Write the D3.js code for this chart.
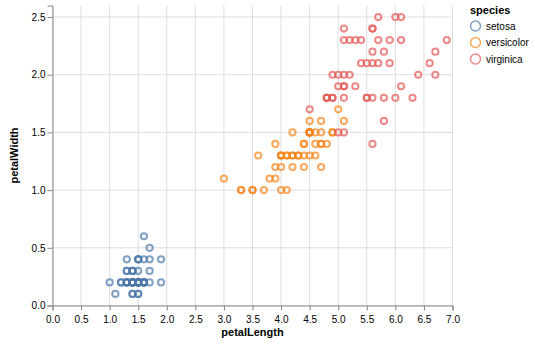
<!DOCTYPE html>
<html><head><meta charset="utf-8">
<script src="https://cdn.jsdelivr.net/npm/d3@7"></script>
<style>body{margin:0;background:#fff;font-family:"Liberation Sans",Arial,Helvetica,sans-serif}</style>
</head><body><svg id="c" width="535" height="345"></svg>
<script>
const species = ["setosa","versicolor","virginica"];
const colors = ["#4c78a8","#f58518","#e45756"];
const xTicks = [0,0.5,1,1.5,2,2.5,3,3.5,4,4.5,5,5.5,6,6.5,7];
const yTicks = [0,0.5,1,1.5,2,2.5];
const setosaLength = [1.4,1.4,1.3,1.5,1.4,1.7,1.4,1.5,1.4,1.5,1.5,1.6,1.4,1.1,1.2,1.5,1.3,1.4,1.7,1.5,1.7,1.5,1.0,1.7,1.9,1.6,1.6,1.5,1.4,1.6,1.6,1.5,1.5,1.4,1.5,1.2,1.3,1.4,1.3,1.5,1.3,1.3,1.3,1.6,1.9,1.4,1.6,1.4,1.5,1.4];
const setosaWidth = [0.2,0.2,0.2,0.2,0.2,0.4,0.3,0.2,0.2,0.1,0.2,0.2,0.1,0.1,0.2,0.4,0.4,0.3,0.3,0.3,0.2,0.4,0.2,0.5,0.2,0.2,0.4,0.2,0.2,0.2,0.2,0.4,0.1,0.2,0.2,0.2,0.2,0.1,0.2,0.2,0.3,0.3,0.2,0.6,0.4,0.3,0.2,0.2,0.2,0.2];
const versicolorLength = [4.7,4.5,4.9,4.0,4.6,4.5,4.7,3.3,4.6,3.9,3.5,4.2,4.0,4.7,3.6,4.4,4.5,4.1,4.5,3.9,4.8,4.0,4.9,4.7,4.3,4.4,4.8,5.0,4.5,3.5,3.8,3.7,3.9,5.1,4.5,4.5,4.7,4.4,4.1,4.0,4.4,4.6,4.0,3.3,4.2,4.2,4.2,4.3,3.0,4.1];
const versicolorWidth = [1.4,1.5,1.5,1.3,1.5,1.3,1.6,1.0,1.3,1.4,1.0,1.5,1.0,1.4,1.3,1.4,1.5,1.0,1.5,1.1,1.8,1.3,1.5,1.2,1.3,1.4,1.4,1.7,1.5,1.0,1.1,1.0,1.2,1.6,1.5,1.6,1.5,1.3,1.3,1.3,1.2,1.4,1.2,1.0,1.3,1.2,1.3,1.3,1.1,1.3];
const virginicaLength = [6.0,5.1,5.9,5.6,5.8,6.6,4.5,6.3,5.8,6.1,5.1,5.3,5.5,5.0,5.1,5.3,5.5,6.7,6.9,5.0,5.7,4.9,6.7,4.9,5.7,6.0,4.8,4.9,5.6,5.8,6.1,6.4,5.6,5.1,5.6,6.1,5.6,5.5,4.8,5.4,5.6,5.1,5.1,5.9,5.7,5.2,5.0,5.2,5.4,5.1];
const virginicaWidth = [2.5,1.9,2.1,1.8,2.2,2.1,1.7,1.8,1.8,2.5,2.0,1.9,2.1,2.0,2.4,2.3,1.8,2.2,2.3,1.5,2.3,2.0,2.0,1.8,2.1,1.8,1.8,1.8,2.1,1.6,1.9,2.0,2.2,1.5,1.4,2.3,2.4,1.8,1.8,2.1,2.4,2.3,1.9,2.3,2.5,2.3,1.9,2.0,2.3,1.8];

const seriesLen = [setosaLength, versicolorLength, virginicaLength];
const seriesWid = [setosaWidth, versicolorWidth, virginicaWidth];
const data = [];
species.forEach((s,i)=>seriesLen[i].forEach((v,j)=>data.push({species:s,petalLength:v,petalWidth:seriesWid[i][j]})));

const svg = d3.select("#c");
const m = {l:52.5, t:5.5}, W = 400, H = 300;
const g = svg.append("g").attr("transform",`translate(${m.l},${m.t})`);
const x = d3.scaleLinear().domain([0,7]).range([0,W]);
const y = d3.scaleLinear().domain([0,2.6]).range([H,0]);
const color = d3.scaleOrdinal().domain(species).range(colors);

// grid
g.append("g").selectAll("line").data(xTicks).join("line")
  .attr("x1",d=>x(d)).attr("x2",d=>x(d)).attr("y1",0).attr("y2",H)
  .attr("stroke","#ddd").attr("stroke-width",1);
g.append("g").selectAll("line").data(yTicks).join("line")
  .attr("y1",d=>y(d)).attr("y2",d=>y(d)).attr("x1",0).attr("x2",W)
  .attr("stroke","#ddd").attr("stroke-width",1);

const fmt = d3.format(".1f");
const xa = g.append("g").attr("transform",`translate(0,${H})`)
  .call(d3.axisBottom(x).tickValues(xTicks).tickFormat(fmt).tickSize(5).tickPadding(2));
const ya = g.append("g")
  .call(d3.axisLeft(y).tickValues(yTicks).tickFormat(fmt).tickSize(5).tickPadding(2));
[xa,ya].forEach(a=>{
  a.selectAll("path,line").attr("stroke","#888");
  a.selectAll("text").attr("fill","#000").style("font-size","10px").style("font-family","Liberation Sans, Arial, sans-serif");
  a.select(".domain").attr("stroke","#888");
});
xa.selectAll("text").attr("dy","1.0em");

// points
g.append("g").selectAll("circle").data(data).join("circle")
  .attr("cx",d=>x(d.petalLength)).attr("cy",d=>y(d.petalWidth)).attr("r",3.1)
  .attr("fill","none").attr("stroke",d=>color(d.species)).attr("stroke-width",2).attr("stroke-opacity",0.7);

// axis titles
svg.append("text").attr("x",m.l+W/2).attr("y",336).attr("text-anchor","middle")
  .style("font-size","11px").style("font-weight","bold").text("petalLength");
svg.append("text").attr("transform",`translate(18,${m.t+H/2}) rotate(-90)`).attr("text-anchor","middle")
  .style("font-size","11px").style("font-weight","bold").text("petalWidth");

// legend
const lg = svg.append("g").attr("transform","translate(470,0)");
lg.append("text").attr("x",0).attr("y",14).style("font-size","11px").style("font-weight","bold").text("species");
const items = lg.selectAll("g.item").data(species).join("g").attr("class","item")
  .attr("transform",(d,i)=>`translate(0,${26+i*16.5})`);
items.append("circle").attr("cx",5.5).attr("cy",0).attr("r",5).attr("fill","none")
  .attr("stroke",d=>color(d)).attr("stroke-width",1.5).attr("stroke-opacity",0.7);
items.append("text").attr("x",16).attr("y",3.5).style("font-size","10px").text(d=>d);
</script></body></html>
